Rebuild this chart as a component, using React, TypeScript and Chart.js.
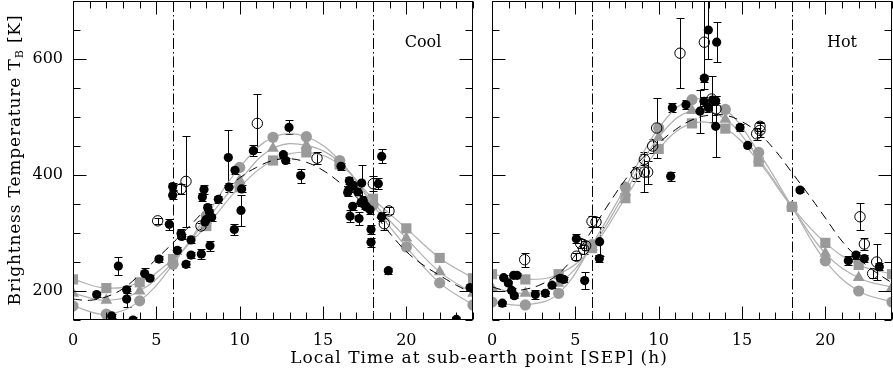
import React, { useEffect, useRef } from "react";
import { Chart, registerables } from "chart.js";

Chart.register(...registerables);

// ---------- axes ----------
const X_MIN = 0;
const X_MAX = 24;
const Y_MIN = 150;
const Y_MAX = 700;
const X_TICKS = [0, 5, 10, 15, 20];
const Y_TICKS = [200, 400, 600];
const TERMINATOR_HOURS = [6, 18];

// ---------- model curves (grey, markers every 2 h) ----------
const MODEL_HOURS = [0, 2, 4, 6, 8, 10, 12, 14, 16, 18, 20, 22, 24];
const COOL_MODEL_CIRCLE = [174, 160, 183, 246, 330, 413, 465, 466, 425, 348, 276, 214, 176];
const COOL_MODEL_TRIANGLE = [196, 184, 200, 250, 322, 391, 446, 451, 422, 353, 291, 233, 196];
const COOL_MODEL_SQUARE = [220, 205, 215, 255, 312, 379, 425, 439, 418, 359, 308, 257, 222];
const HOT_MODEL_CIRCLE = [181, 176, 196, 280, 379, 481, 530, 513, 439, 345, 252, 200, 181];
const HOT_MODEL_TRIANGLE = [206, 196, 213, 276, 370, 465, 511, 496, 428, 345, 265, 223, 206];
const HOT_MODEL_SQUARE = [229, 220, 229, 274, 360, 445, 489, 480, 423, 345, 283, 245, 229];

// ---------- dashed model (hourly) ----------
const DASH_HOURS = [0, 1, 2, 3, 4, 5, 6, 7, 8, 9, 10, 11, 12, 13, 14, 15, 16, 17, 18, 19, 20, 21, 22, 23, 24];
const COOL_DASHED = [186, 184, 190, 204, 228, 255, 283, 312, 342, 370, 395, 413, 425, 428, 422, 408, 387, 362, 335, 300, 268, 245, 227, 210, 196];
const HOT_DASHED = [207, 200, 203, 212, 230, 262, 305, 350, 392, 428, 455, 478, 495, 503, 503, 492, 472, 442, 404, 366, 326, 286, 256, 233, 214];

// ---------- observations: Cool ----------
const COOL_FILLED_X = [1.42, 2.72, 2.32, 3.22, 3.22, 3.6, 4.3, 4.62, 5.16, 5.78, 5.98, 5.98, 6.48, 6.52, 6.26, 6.78, 7.08, 7.08, 7.7, 8.22, 7.86, 7.76, 8.08, 8.18, 7.98, 8.32, 7.92, 8.72, 9.32, 9.36, 9.72, 10.12, 10.08, 9.68, 10.82, 12.96, 12.62, 12.76, 13.66, 16.08, 18.52, 16.58, 16.82, 16.48, 17.08, 17.32, 16.78, 16.62, 17.16, 17.42, 17.52, 17.82, 18.32, 17.88, 17.88, 18.52, 18.92, 23.82, 23.0, 16.55, 17.28, 17.62];
const COOL_FILLED_Y = [194, 243, 157, 202, 186, 150, 230, 222, 255, 315, 365, 380, 299, 294, 270, 246, 288, 262, 264, 278, 375, 362, 344, 336, 323, 327, 319, 358, 430, 379, 408, 376, 339, 306, 442, 482, 435, 425, 399, 415, 432, 390, 382, 370, 371, 386, 346, 329, 325, 356, 348, 340, 385, 306, 284, 328, 235, 206, 151, 375, 352, 345];
const COOL_FILLED_ERR = [5, 16, 4, 6, 14, 6, 10, 5, 5, 9, 7, 6, 8, 5, 6, 5, 6, 5, 9, 9, 7, 7, 6, 6, 5, 6, 5, 6, 47, 8, 6, 6, 27, 9, 10, 12, 5, 5, 12, 6, 12, 6, 6, 6, 6, 32, 6, 10, 12, 8, 6, 8, 10, 8, 8, 8, 5, 5, 5, 5, 6, 5];
const COOL_OPEN_X = [5.08, 6.48, 6.78, 7.68, 11.06, 14.64, 18.02, 18.96, 18.68];
const COOL_OPEN_Y = [321, 376, 389, 312, 489, 429, 385, 338, 316];
const COOL_OPEN_ERR = [5, 8, 79, 5, 50, 10, 13, 6, 10];

// ---------- observations: Hot ----------
const HOT_FILLED_X = [0.62, 0.7, 0.98, 1.3, 1.5, 1.18, 1.34, 2.6, 3.2, 3.6, 4.1, 4.3, 5.06, 5.56, 6.46, 6.44, 10.72, 10.82, 11.64, 12.98, 13.48, 12.74, 12.72, 13.24, 13.42, 12.48, 12.98, 13.42, 14.88, 15.34, 18.48, 21.38, 21.84, 22.34, 23.24];
const HOT_FILLED_Y = [179, 223, 214, 227, 227, 201, 192, 194, 196, 210, 222, 220, 290, 218, 285, 256, 398, 516, 521, 650, 629, 567, 527, 529, 528, 510, 516, 484, 482, 451, 374, 252, 262, 256, 242];
const HOT_FILLED_ERR = [4, 4, 4, 4, 4, 4, 4, 7, 4, 4, 4, 4, 8, 15, 25, 6, 8, 8, 8, 50, 34, 6, 8, 8, 8, 37, 8, 53, 6, 5, 4, 8, 6, 6, 6];
const HOT_OPEN_X = [1.96, 5.06, 5.32, 5.5, 5.62, 6.0, 6.24, 8.66, 9.14, 9.34, 9.14, 9.64, 9.88, 11.28, 12.74, 13.18, 13.44, 15.88, 16.08, 16.08, 22.08, 22.34, 23.08, 22.84];
const HOT_OPEN_Y = [254, 260, 282, 272, 278, 320, 319, 402, 405, 405, 427, 450, 481, 610, 629, 531, 514, 471, 477, 484, 328, 281, 250, 230];
const HOT_OPEN_ERR = [12, 6, 8, 8, 8, 10, 8, 12, 34, 20, 10, 12, 51, 60, 80, 40, 10, 10, 12, 8, 23, 10, 31, 8];

// ---------- styling ----------
const FONT = "'DejaVu Serif', serif";
const GREY_MARK = "#9a9a9a";
const GREY_LINE = "#b0b0b0";

const pts = (xs: number[], ys: number[]) => xs.map((x, i) => ({ x, y: ys[i] }));

function obsDatasets(fx: number[], fy: number[], fe: number[], ox: number[], oy: number[], oe: number[]) {
  return [
    {
      label: "obs",
      data: pts(fx, fy),
      errorBars: fe,
      showLine: false,
      pointStyle: "circle",
      pointRadius: 4.6,
      pointBackgroundColor: "#000",
      pointBorderColor: "#000",
      pointBorderWidth: 0,
      clip: 0,
    },
    {
      label: "obs-open",
      data: pts(ox, oy),
      errorBars: oe,
      showLine: false,
      pointStyle: "circle",
      pointRadius: 5.2,
      pointBackgroundColor: "rgba(0,0,0,0)",
      pointBorderColor: "#000",
      pointBorderWidth: 1,
      clip: 0,
    },
  ];
}

function modelDatasets(c: number[], t: number[], s: number[], d: number[]) {
  const base = {
    showLine: true,
    tension: 0.4,
    borderColor: GREY_LINE,
    borderWidth: 1.2,
    pointBackgroundColor: GREY_MARK,
    pointBorderWidth: 0,
    clip: 0,
  };
  return [
    {
      label: "dashed",
      data: pts(DASH_HOURS, d),
      showLine: true,
      tension: 0.4,
      borderColor: "#000",
      borderWidth: 1,
      borderDash: [9, 6],
      pointRadius: 0,
      clip: 0,
    },
    { ...base, label: "circle", data: pts(MODEL_HOURS, c), pointStyle: "circle", pointRadius: 5.6 },
    { ...base, label: "triangle", data: pts(MODEL_HOURS, t), pointStyle: "triangle", pointRadius: 6.8 },
    { ...base, label: "square", data: pts(MODEL_HOURS, s), pointStyle: "rect", pointRadius: 7.2 },
  ];
}

const panelPlugin = {
  id: "panelDecor",
  beforeDatasetsDraw(chart: any) {
    const { ctx, chartArea: ca, scales } = chart;
    const xs = scales.x;
    const ys = scales.y;
    ctx.save();
    ctx.beginPath();
    ctx.rect(ca.left, ca.top, ca.right - ca.left, ca.bottom - ca.top);
    ctx.clip();
    ctx.strokeStyle = "#000";
    ctx.lineWidth = 1;
    ctx.setLineDash([11, 3, 1.5, 3]);
    for (const h of TERMINATOR_HOURS) {
      const px = Math.round(xs.getPixelForValue(h)) + 0.5;
      ctx.beginPath();
      ctx.moveTo(px, ca.top);
      ctx.lineTo(px, ca.bottom);
      ctx.stroke();
    }
    ctx.setLineDash([]);
    chart.data.datasets.forEach((ds: any) => {
      const errs = ds.errorBars;
      if (!errs) return;
      ds.data.forEach((p: any, j: number) => {
        const e = errs[j];
        if (!e) return;
        const px = Math.round(xs.getPixelForValue(p.x)) + 0.5;
        const top = Math.round(ys.getPixelForValue(p.y + e)) + 0.5;
        const bot = Math.round(ys.getPixelForValue(p.y - e)) + 0.5;
        ctx.beginPath();
        ctx.moveTo(px, top);
        ctx.lineTo(px, bot);
        ctx.moveTo(px - 4, top);
        ctx.lineTo(px + 4, top);
        ctx.moveTo(px - 4, bot);
        ctx.lineTo(px + 4, bot);
        ctx.stroke();
      });
    });
    ctx.restore();
  },
  afterDraw(chart: any, _a: any, opts: any) {
    const { ctx, chartArea: ca, scales } = chart;
    const xs = scales.x;
    const ys = scales.y;
    ctx.save();
    ctx.strokeStyle = "#000";
    ctx.lineWidth = 1;
    const L = Math.round(ca.left) + 0.5;
    const R = Math.round(ca.right) - 0.5;
    const T = Math.round(ca.top) + 0.5;
    const B = Math.round(ca.bottom) - 0.5;
    ctx.strokeRect(L, T, R - L, B - T);
    ctx.beginPath();
    for (let h = X_MIN; h <= X_MAX; h += 1) {
      const len = h % 5 === 0 ? 13 : 7;
      const px = Math.round(xs.getPixelForValue(h)) + 0.5;
      ctx.moveTo(px, B);
      ctx.lineTo(px, B - len);
      ctx.moveTo(px, T);
      ctx.lineTo(px, T + len);
    }
    for (let v = Y_MIN; v <= Y_MAX; v += 50) {
      const len = v % 200 === 0 ? 13 : 7;
      const py = Math.round(ys.getPixelForValue(v)) + 0.5;
      ctx.moveTo(L, py);
      ctx.lineTo(L + len, py);
      ctx.moveTo(R, py);
      ctx.lineTo(R - len, py);
    }
    ctx.stroke();
    ctx.fillStyle = "#000";
    ctx.font = `16px ${FONT}`;
    ctx.textAlign = "center";
    ctx.textBaseline = "middle";
    ctx.fillText(opts.label, xs.getPixelForValue(opts.labelX), ys.getPixelForValue(opts.labelY));
    ctx.restore();
  },
};

const zeroPad = (s: any) => {
  s.paddingLeft = 0;
  s.paddingRight = 0;
  s.paddingTop = 0;
  s.paddingBottom = 0;
};

function makeConfig(datasets: any[], showY: boolean, padding: any, label: string): any {
  return {
    type: "scatter",
    data: { datasets },
    plugins: [panelPlugin],
    options: {
      animation: false,
      responsive: false,
      devicePixelRatio: 1,
      layout: { padding, autoPadding: false },
      plugins: {
        legend: { display: false },
        tooltip: { enabled: false },
        panelDecor: { label, labelX: 21.0, labelY: 628 },
      },
      scales: {
        x: {
          type: "linear",
          min: X_MIN,
          max: X_MAX,
          grid: { display: false, drawTicks: false },
          border: { display: false },
          afterBuildTicks: (s: any) => {
            s.ticks = X_TICKS.map((v) => ({ value: v }));
          },
          afterFit: (s: any) => {
            s.height = 48;
            zeroPad(s);
          },
          ticks: {
            padding: 11,
            color: "#000",
            font: { family: FONT, size: 16 },
            maxRotation: 0,
            autoSkip: false,
          },
        },
        y: {
          type: "linear",
          display: showY,
          min: Y_MIN,
          max: Y_MAX,
          grid: { display: false, drawTicks: false },
          border: { display: false },
          afterBuildTicks: (s: any) => {
            s.ticks = Y_TICKS.map((v) => ({ value: v }));
          },
          afterFit: (s: any) => {
            s.width = showY ? 73 : 0;
            zeroPad(s);
          },
          ticks: {
            padding: 10,
            color: "#000",
            font: { family: FONT, size: 16 },
          },
        },
      },
    },
  };
}

function Panel(props: { left: number; width: number; config: any }) {
  const ref = useRef<HTMLCanvasElement | null>(null);
  useEffect(() => {
    if (!ref.current) return;
    const chart = new Chart(ref.current, props.config);
    return () => chart.destroy();
  }, []);
  return (
    <canvas
      ref={ref}
      width={props.width}
      height={368}
      style={{ position: "absolute", left: props.left, top: 0, width: props.width, height: 368 }}
    />
  );
}

export default function App() {
  const coolSets = [
    ...obsDatasets(COOL_FILLED_X, COOL_FILLED_Y, COOL_FILLED_ERR, COOL_OPEN_X, COOL_OPEN_Y, COOL_OPEN_ERR),
    ...modelDatasets(COOL_MODEL_CIRCLE, COOL_MODEL_TRIANGLE, COOL_MODEL_SQUARE, COOL_DASHED),
  ];
  const hotSets = [
    ...obsDatasets(HOT_FILLED_X, HOT_FILLED_Y, HOT_FILLED_ERR, HOT_OPEN_X, HOT_OPEN_Y, HOT_OPEN_ERR),
    ...modelDatasets(HOT_MODEL_CIRCLE, HOT_MODEL_TRIANGLE, HOT_MODEL_SQUARE, HOT_DASHED),
  ];
  const coolCfg = makeConfig(coolSets, true, { left: 0, right: 7, top: 1, bottom: 0 }, "Cool");
  const hotCfg = makeConfig(hotSets, false, { left: 12, right: 1, top: 1, bottom: 0 }, "Hot");
  return (
    <div style={{ position: "absolute", left: 0, top: 0, width: 893, height: 368, background: "#fff", overflow: "hidden" }}>
      <Panel left={0} width={480} config={coolCfg} />
      <Panel left={480} width={413} config={hotCfg} />
      <div
        style={{
          position: "absolute",
          left: 0,
          width: 958,
          top: 347,
          textAlign: "center",
          fontFamily: FONT,
          fontSize: 17,
          letterSpacing: "1px",
          lineHeight: "20px",
          color: "#000",
          whiteSpace: "nowrap",
        }}
      >
        Local Time at sub-earth point [SEP] (h)
      </div>
      <div
        style={{
          position: "absolute",
          left: 14 - 160,
          top: 160 - 10,
          width: 320,
          height: 20,
          lineHeight: "20px",
          textAlign: "center",
          transform: "rotate(-90deg)",
          fontFamily: FONT,
          fontSize: 17,
          letterSpacing: "0.85px",
          color: "#000",
          whiteSpace: "nowrap",
        }}
      >
        Brightness Temperature T<sub style={{ fontSize: 11, verticalAlign: "-3px" }}>B</sub> [K]
      </div>
    </div>
  );
}
